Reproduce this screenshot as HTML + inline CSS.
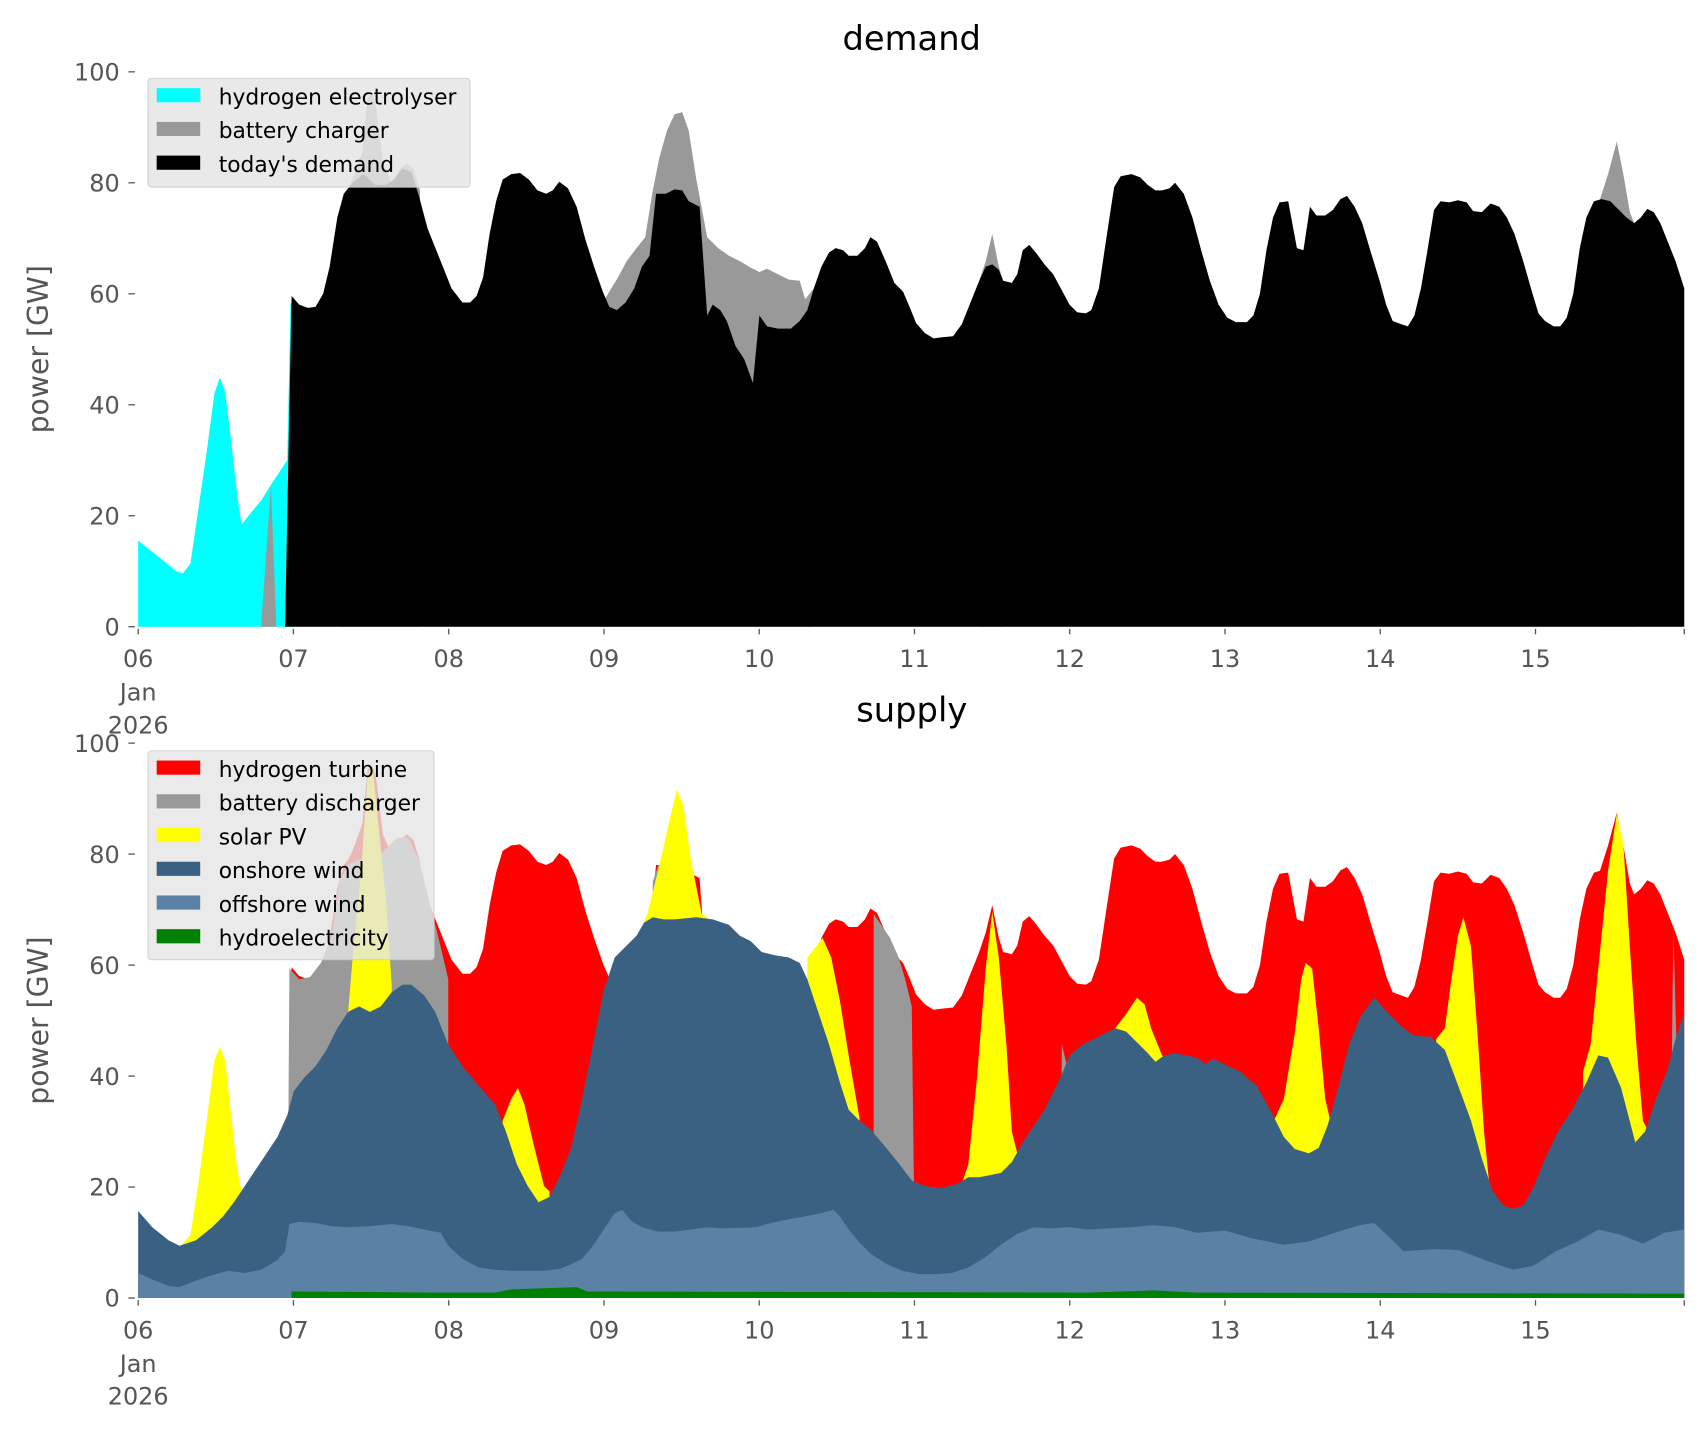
<!DOCTYPE html>
<html><head><meta charset="utf-8"><style>
html,body{margin:0;padding:0;background:#fff;}
svg{display:block;font-family:"DejaVu Sans","Liberation Sans",sans-serif;}
.t{fill:#555;font-size:22px;}
</style></head><body>
<svg width="1706" height="1431" viewBox="0 0 1568 1315.2" xmlns="http://www.w3.org/2000/svg">
<defs>
<polygon id="blk" points="262,576 268,272 275,280 283,283 290,282 297,270 303,245 310,200 316,178 324,168 334,160 345,170 355,170 362,165 370,155 378,158 385,180 393,210 405,240 415,265 425,278 432,278 438,272 444,255 450,215 456,185 462,165 470,160 478,159 486,165 494,175 502,178 508,175 514,167 522,173 530,190 538,220 546,245 554,268 560,282 567,285 575,278 583,265 590,245 597,235 603,178 612,178 620,174 627,175 633,185 643,190 650,290 655,280 662,285 668,295 676,318 684,330 692,352 698,290 705,300 715,302 727,302 735,295 742,285 748,265 755,245 762,232 768,228 775,230 780,235 788,235 795,228 800,218 806,222 814,240 822,260 830,268 836,282 842,297 850,306 858,311 866,310 876,309 884,298 892,278 900,258 906,245 912,243 918,248 922,258 930,260 935,252 940,230 946,225 952,232 960,243 968,252 975,265 983,280 990,287 998,288 1003,285 1010,265 1017,218 1024,172 1030,162 1040,160 1048,163 1055,170 1062,175 1068,175 1075,173 1080,168 1088,178 1096,200 1104,230 1112,258 1120,280 1128,292 1136,296 1146,296 1152,290 1158,270 1164,230 1170,200 1176,186 1184,185 1192,228 1198,230 1204,190 1210,198 1218,198 1225,193 1232,183 1238,180 1245,190 1252,205 1260,232 1268,258 1274,280 1280,295 1288,298 1294,300 1300,290 1306,265 1312,230 1318,193 1324,185 1332,186 1340,184 1348,186 1354,194 1362,195 1370,187 1378,190 1385,200 1392,215 1400,240 1408,268 1414,288 1420,295 1428,300 1434,300 1440,292 1446,270 1452,228 1458,200 1465,185 1472,183 1480,185 1488,193 1495,200 1502,205 1508,200 1514,192 1520,195 1526,205 1532,220 1540,240 1548,265 1548,576"/>
<polygon id="g2" points="312,576 312,200 318,178 326,160 333,140 338,90 342,85 346,100 352,150 360,168 368,155 374,150 380,155 386,175 386,576"/>
<polygon id="g3" points="552,576 552,282 560,268 568,255 576,240 585,228 593,218 600,175 606,145 613,120 620,105 627,103 633,120 640,165 650,218 660,228 670,235 680,240 690,246 698,250 705,247 715,252 725,257 735,258 740,275 748,265 748,576"/>
<polygon id="g4" points="900,576 900,258 906,240 912,215 918,245 922,258 922,576"/>
<polygon id="g5" points="1470,576 1470,185 1478,160 1486,130 1492,160 1498,195 1502,205 1502,576"/>
</defs>

<!-- TOP -->
<polygon fill="#00ffff" points="127,576 127,497 150,515 162,525 168,527 175,518 182,470 190,415 197,362 202,347 207,360 213,410 218,455 222,482 230,472 240,460 250,444 258,432 264,423 267,280 270,272 270,576"/>
<polygon fill="#999" points="240,576 249,446 254,576"/>
<g fill="#999"><use href="#g2"/><use href="#g3"/><use href="#g4"/><use href="#g5"/></g>
<use href="#blk" fill="#000"/>

<!-- BOTTOM -->
<g transform="translate(0,617)" fill="#ff0000"><use href="#blk"/><use href="#g2"/><use href="#g4"/><use href="#g5"/></g>
<g fill="#999">
<polygon points="264,1193 266,890 275,900 285,898 295,885 305,860 312,810 320,795 330,790 345,790 355,780 365,770 375,770 385,790 395,830 405,870 412,900 412,1193"/>
<polygon points="596,1193 600,810 605,795 612,795 614,1193"/>
<polygon points="803,1193 803,840 810,850 818,862 826,880 832,900 838,925 840,1090 840,1193"/>
<polygon points="974,1193 976,960 982,985 982,1193"/>
<polygon points="1534,1193 1538,855 1542,1000 1542,1193"/>
</g>
<g fill="#ffff00">
<polygon points="166,1193 168,1143 175,1135 182,1090 190,1030 197,975 202,962 207,975 213,1030 218,1075 222,1095 224,1193"/>
<polygon points="318,1193 320,930 325,870 332,800 338,712 342,700 348,760 355,830 360,905 362,1193"/>
<polygon points="455,1193 462,1030 470,1010 476,1000 482,1015 490,1050 500,1090 505,1095 506,1193"/>
<polygon points="583,1193 585,865 595,840 605,800 614,760 622,726 628,740 635,790 645,840 650,843 652,1193"/>
<polygon points="740,1193 742,880 750,870 756,862 764,880 772,920 780,970 790,1028 792,1193"/>
<polygon points="883,1193 885,1085 890,1070 898,990 906,890 912,838 918,880 925,960 930,1040 935,1060 937,1193"/>
<polygon points="1023,1193 1025,945 1035,932 1045,917 1052,923 1058,945 1068,970 1075,975 1080,968 1082,1193"/>
<polygon points="1168,1193 1170,1032 1180,1010 1190,950 1196,900 1200,885 1206,890 1212,945 1218,1010 1225,1040 1230,1030 1232,1193"/>
<polygon points="1318,1193 1320,955 1328,945 1334,900 1340,860 1345,843 1352,870 1358,950 1364,1040 1370,1100 1378,1111 1380,1193"/>
<polygon points="1453,1193 1455,985 1462,960 1470,880 1478,800 1486,748 1492,775 1498,870 1504,960 1510,1030 1515,1040 1517,1193"/>
</g>
<polygon fill="#3b6182" points="127,1193 127,1113 140,1128 155,1140 165,1145 180,1140 195,1128 205,1118 215,1105 225,1090 235,1075 245,1060 255,1045 264,1025 270,1003 280,990 290,980 300,965 310,945 320,930 330,925 340,930 350,925 360,912 370,905 378,905 390,915 400,930 412,960 425,980 440,998 455,1015 465,1040 475,1070 485,1090 495,1105 505,1100 515,1080 525,1055 535,1010 545,960 555,910 565,880 575,870 585,860 592,848 600,843 610,845 620,845 640,843 655,845 670,850 680,860 690,865 700,875 712,878 725,880 735,885 742,900 752,930 762,960 772,995 780,1020 790,1030 800,1038 812,1052 825,1068 838,1085 850,1090 865,1092 880,1088 890,1082 900,1082 910,1080 920,1078 930,1068 940,1050 950,1035 960,1020 975,990 983,970 995,960 1005,955 1015,950 1025,945 1035,948 1045,958 1055,968 1062,976 1070,970 1080,968 1090,970 1100,972 1108,978 1115,973 1125,978 1140,985 1155,998 1170,1025 1180,1045 1190,1056 1203,1060 1212,1055 1220,1035 1230,1000 1240,960 1250,935 1263,917 1275,930 1290,945 1300,952 1315,953 1328,965 1341,1000 1352,1030 1362,1065 1372,1095 1382,1108 1391,1111 1400,1108 1410,1090 1420,1065 1432,1040 1445,1020 1458,995 1469,970 1478,972 1490,1000 1503,1050 1512,1040 1522,1010 1532,985 1540,955 1548,930 1548,1193"/>
<polygon fill="#5b82a4" points="127,1193 127,1170 140,1176 155,1182 165,1183 180,1177 195,1172 210,1168 225,1170 240,1167 255,1158 262,1150 266,1125 275,1123 290,1124 305,1127 320,1128 340,1127 360,1125 375,1127 390,1130 405,1133 412,1145 425,1157 440,1165 455,1167 470,1168 500,1168 515,1166 525,1162 535,1157 545,1145 555,1130 565,1115 572,1112 580,1122 590,1128 605,1132 620,1132 635,1130 650,1128 665,1129 695,1128 705,1125 718,1122 728,1120 740,1118 750,1116 758,1114 766,1112 772,1118 780,1130 790,1142 800,1152 815,1162 830,1168 845,1171 860,1171 875,1170 890,1165 905,1156 920,1144 935,1134 950,1128 965,1129 983,1128 1000,1130 1020,1129 1040,1128 1060,1126 1080,1128 1100,1133 1126,1131 1150,1138 1180,1144 1203,1141 1230,1132 1250,1126 1263,1124 1280,1140 1290,1150 1320,1148 1341,1149 1370,1160 1391,1167 1410,1163 1430,1150 1450,1141 1469,1130 1490,1135 1510,1143 1530,1133 1548,1130 1548,1193"/>
<polygon fill="#008000" points="268,1193 268,1187 400,1188 455,1188 470,1185 530,1183 540,1187 1000,1188 1060,1186 1100,1188 1548,1189 1548,1193"/>

<!-- Titles -->
<text x="838" y="46" text-anchor="middle" font-size="31" fill="#000">demand</text>
<text x="838" y="663" text-anchor="middle" font-size="31" fill="#000">supply</text>

<!-- Axes ticks & labels -->
<g stroke="#555" stroke-width="1.2">
<line x1="118" y1="576" x2="124" y2="576"/><line x1="118" y1="474" x2="124" y2="474"/><line x1="118" y1="372" x2="124" y2="372"/><line x1="118" y1="270" x2="124" y2="270"/><line x1="118" y1="168" x2="124" y2="168"/><line x1="118" y1="66" x2="124" y2="66"/>
<line x1="118" y1="1193" x2="124" y2="1193"/><line x1="118" y1="1091" x2="124" y2="1091"/><line x1="118" y1="989" x2="124" y2="989"/><line x1="118" y1="887" x2="124" y2="887"/><line x1="118" y1="785" x2="124" y2="785"/><line x1="118" y1="683" x2="124" y2="683"/>
</g>
<g class="t" text-anchor="end">
<text x="110" y="584">0</text><text x="110" y="482">20</text><text x="110" y="380">40</text><text x="110" y="278">60</text><text x="110" y="176">80</text><text x="110" y="74">100</text>
<text x="110" y="1201">0</text><text x="110" y="1099">20</text><text x="110" y="997">40</text><text x="110" y="895">60</text><text x="110" y="793">80</text><text x="110" y="691">100</text>
</g>
<g stroke="#555" stroke-width="1.2">
<line x1="127" y1="578" x2="127" y2="583"/><line x1="269.7" y1="578" x2="269.7" y2="583"/><line x1="412.4" y1="578" x2="412.4" y2="583"/><line x1="555.1" y1="578" x2="555.1" y2="583"/><line x1="697.8" y1="578" x2="697.8" y2="583"/><line x1="840.5" y1="578" x2="840.5" y2="583"/><line x1="983.2" y1="578" x2="983.2" y2="583"/><line x1="1125.9" y1="578" x2="1125.9" y2="583"/><line x1="1268.6" y1="578" x2="1268.6" y2="583"/><line x1="1411.3" y1="578" x2="1411.3" y2="583"/><line x1="1548" y1="578" x2="1548" y2="583"/>
<line x1="127" y1="1195" x2="127" y2="1200"/><line x1="269.7" y1="1195" x2="269.7" y2="1200"/><line x1="412.4" y1="1195" x2="412.4" y2="1200"/><line x1="555.1" y1="1195" x2="555.1" y2="1200"/><line x1="697.8" y1="1195" x2="697.8" y2="1200"/><line x1="840.5" y1="1195" x2="840.5" y2="1200"/><line x1="983.2" y1="1195" x2="983.2" y2="1200"/><line x1="1125.9" y1="1195" x2="1125.9" y2="1200"/><line x1="1268.6" y1="1195" x2="1268.6" y2="1200"/><line x1="1411.3" y1="1195" x2="1411.3" y2="1200"/><line x1="1548" y1="1195" x2="1548" y2="1200"/>
</g>
<g class="t" text-anchor="middle">
<text x="127" y="613">06</text><text x="127" y="644">Jan</text><text x="127" y="674">2026</text>
<text x="269.7" y="613">07</text><text x="412.4" y="613">08</text><text x="555.1" y="613">09</text><text x="697.8" y="613">10</text><text x="840.5" y="613">11</text><text x="983.2" y="613">12</text><text x="1125.9" y="613">13</text><text x="1268.6" y="613">14</text><text x="1411.3" y="613">15</text>
<text x="127" y="1230">06</text><text x="127" y="1261">Jan</text><text x="127" y="1291">2026</text>
<text x="269.7" y="1230">07</text><text x="412.4" y="1230">08</text><text x="555.1" y="1230">09</text><text x="697.8" y="1230">10</text><text x="840.5" y="1230">11</text><text x="983.2" y="1230">12</text><text x="1125.9" y="1230">13</text><text x="1268.6" y="1230">14</text><text x="1411.3" y="1230">15</text>
</g>
<text transform="translate(44,321) rotate(-90)" text-anchor="middle" font-size="26" fill="#555">power [GW]</text>
<text transform="translate(44,938) rotate(-90)" text-anchor="middle" font-size="26" fill="#555">power [GW]</text>

<!-- Legends -->
<rect x="136" y="72" width="296" height="100" rx="3" fill="#e5e5e5" fill-opacity="0.85" stroke="#ccc" stroke-opacity="0.8"/>
<rect x="144" y="81" width="40" height="13" fill="#00ffff"/>
<rect x="144" y="112" width="40" height="13" fill="#999"/>
<rect x="144" y="143" width="40" height="13" fill="#000"/>
<g font-size="20" fill="#000">
<text x="201" y="96">hydrogen electrolyser</text><text x="201" y="127">battery charger</text><text x="201" y="158">today's demand</text>
</g>
<rect x="136" y="690" width="263" height="192" rx="3" fill="#e5e5e5" fill-opacity="0.8" stroke="#ccc" stroke-opacity="0.8"/>
<rect x="144" y="699" width="40" height="13" fill="#ff0000"/>
<rect x="144" y="730" width="40" height="13" fill="#999"/>
<rect x="144" y="761" width="40" height="13" fill="#ffff00"/>
<rect x="144" y="792" width="40" height="13" fill="#3b6182"/>
<rect x="144" y="823" width="40" height="13" fill="#5b82a4"/>
<rect x="144" y="854" width="40" height="13" fill="#008000"/>
<g font-size="20" fill="#000">
<text x="201" y="714">hydrogen turbine</text><text x="201" y="745">battery discharger</text><text x="201" y="776">solar PV</text><text x="201" y="807">onshore wind</text><text x="201" y="838">offshore wind</text><text x="201" y="869">hydroelectricity</text>
</g>
</svg>
</body></html>
